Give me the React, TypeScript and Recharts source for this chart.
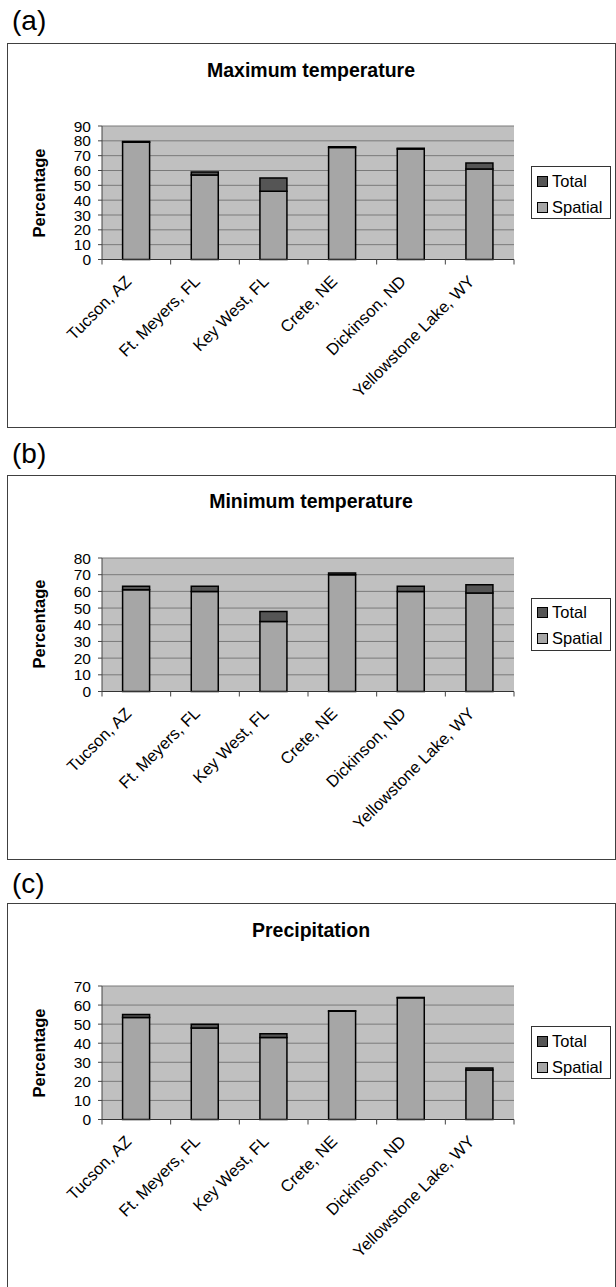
import React from 'react';
import { BarChart, Bar, XAxis, YAxis, CartesianGrid, Legend } from 'recharts';

const sites = ['Tucson, AZ', 'Ft. Meyers, FL', 'Key West, FL', 'Crete, NE', 'Dickinson, ND', 'Yellowstone Lake, WY'];

// percentages: Spatial is the lower part, Total the full bar height
const maxTempSpatial = [79, 57, 46, 75.5, 74.5, 61];
const maxTempTotal = [79.5, 59, 55, 76, 75, 65];
const minTempSpatial = [61, 60, 42, 70, 60, 59];
const minTempTotal = [63, 63, 48, 71, 63, 64];
const precipSpatial = [53.5, 48, 43, 56.8, 63.8, 26];
const precipTotal = [55, 50, 45, 57, 64, 27];

const maxTempTicks = [0, 10, 20, 30, 40, 50, 60, 70, 80, 90];
const minTempTicks = [0, 10, 20, 30, 40, 50, 60, 70, 80];
const precipTicks = [0, 10, 20, 30, 40, 50, 60, 70];

const FONT = '"Liberation Sans", Arial, sans-serif';
const SPATIAL_COLOR = '#a6a6a6';
const TOTAL_COLOR = '#555555';

const buildRows = (spatial: number[], total: number[]) =>
  sites.map((site, i) => ({
    site,
    Spatial: spatial[i],
    Total: Math.round((total[i] - spatial[i]) * 100) / 100,
  }));

// rotated site label plus Excel-style tick marks on the category edges
const renderSiteTick = (props: any) => {
  const { x, y, payload, index } = props;
  const half = payload && payload.offset ? payload.offset : 34.3;
  const px = x - 4;
  const py = y + 23;
  const isLast = index === sites.length - 1;
  return (
    <g>
      <line x1={x - half} x2={x - half} y1={y} y2={y + 5} stroke="#444" />
      {isLast && <line x1={x + half} x2={x + half} y1={y} y2={y + 5} stroke="#444" />}
      <text
        x={px}
        y={py}
        textAnchor="end"
        transform={`rotate(-45 ${px} ${py})`}
        fontSize={16.5}
        fontFamily={FONT}
        fill="#000"
      >
        {payload.value}
      </text>
    </g>
  );
};

const renderLegend = (props: any) => {
  const items = [...(props.payload || [])].reverse();
  return (
    <div
      style={{
        width: 80,
        height: 53,
        boxSizing: 'border-box',
        border: '1px solid #333',
        background: '#fff',
        paddingTop: 1,
      }}
    >
      {items.map((item: any) => (
        <div key={item.value} style={{ height: 26, display: 'flex', alignItems: 'center', paddingLeft: 5 }}>
          <span
            style={{
              display: 'inline-block',
              width: 11,
              height: 11,
              boxSizing: 'border-box',
              border: '1.5px solid #000',
              background: item.value === 'Total' ? TOTAL_COLOR : SPATIAL_COLOR,
              marginRight: 4,
            }}
          />
          <span style={{ fontSize: 16.5, fontFamily: FONT, color: '#000' }}>{item.value}</span>
        </div>
      ))}
    </div>
  );
};

interface PanelProps {
  letter: string;
  title: string;
  spatial: number[];
  total: number[];
  yTicks: number[];
  top: number;
  labelTop: number;
}

const Panel = ({ letter, title, spatial, total, yTicks, top, labelTop }: PanelProps) => {
  const rows = buildRows(spatial, total);
  const yMax = yTicks[yTicks.length - 1];
  return (
    <>
      <div
        style={{
          position: 'absolute',
          left: 12,
          top: labelTop,
          fontSize: 28,
          lineHeight: '28px',
          fontFamily: FONT,
          color: '#000',
        }}
      >
        {letter}
      </div>
      <div
        style={{
          position: 'absolute',
          left: 7,
          top,
          width: 609,
          height: 385,
          boxSizing: 'border-box',
          border: '1.5px solid #404040',
        }}
      />
      <div
        style={{
          position: 'absolute',
          left: 8,
          width: 606,
          top: top + 27 - 9.5,
          textAlign: 'center',
          fontSize: 19.5,
          lineHeight: '19px',
          fontWeight: 'bold',
          fontFamily: FONT,
          color: '#000',
        }}
      >
        {title}
      </div>
      <div
        style={{
          position: 'absolute',
          left: 39,
          top: top + 149.5,
          transform: 'translate(-50%, -50%) rotate(-90deg)',
          whiteSpace: 'nowrap',
          fontSize: 16.5,
          lineHeight: '16px',
          fontWeight: 'bold',
          fontFamily: FONT,
          color: '#000',
        }}
      >
        Percentage
      </div>
      <div style={{ position: 'absolute', left: 0, top }}>
        <BarChart
          width={616}
          height={385}
          data={rows}
          margin={{ top: 83, right: 102, bottom: 68.5, left: 62 }}
          barCategoryGap="30%"
        >
          <CartesianGrid vertical={false} fill="#c0c0c0" stroke="#7a7a7a" />
          <XAxis
            dataKey="site"
            interval={0}
            height={100}
            tickSize={0}
            tickMargin={0}
            tickLine={false}
            axisLine={{ stroke: '#333' }}
            tick={renderSiteTick}
          />
          <YAxis
            domain={[0, yMax]}
            ticks={yTicks}
            interval={0}
            width={40}
            tickSize={4}
            tickMargin={7}
            axisLine={{ stroke: '#444' }}
            tickLine={{ stroke: '#444' }}
            tick={{ fontSize: 15.5, fill: '#000', fontFamily: FONT }}
          />
          <YAxis
            yAxisId="right"
            orientation="right"
            width={0}
            domain={[0, 1]}
            tick={false}
            tickLine={false}
            axisLine={{ stroke: '#999' }}
          />
          <Legend
            layout="vertical"
            align="center"
            verticalAlign="middle"
            wrapperStyle={{ left: 531, top: 123, width: 80 }}
            content={renderLegend}
          />
          <Bar dataKey="Spatial" stackId="s" fill={SPATIAL_COLOR} stroke="#000" strokeWidth={1.5} isAnimationActive={false} />
          <Bar dataKey="Total" stackId="s" fill={TOTAL_COLOR} stroke="#000" strokeWidth={1.5} isAnimationActive={false} />
        </BarChart>
      </div>
    </>
  );
};

export default function App() {
  return (
    <div
      style={{
        position: 'absolute',
        left: 0,
        top: 0,
        width: 616,
        height: 1287,
        overflow: 'hidden',
        background: '#fff',
      }}
    >
      <Panel letter="(a)" title="Maximum temperature" spatial={maxTempSpatial} total={maxTempTotal} yTicks={maxTempTicks} top={43} labelTop={7} />
      <Panel letter="(b)" title="Minimum temperature" spatial={minTempSpatial} total={minTempTotal} yTicks={minTempTicks} top={474.5} labelTop={440} />
      <Panel letter="(c)" title="Precipitation" spatial={precipSpatial} total={precipTotal} yTicks={precipTicks} top={903} labelTop={870} />
    </div>
  );
}
